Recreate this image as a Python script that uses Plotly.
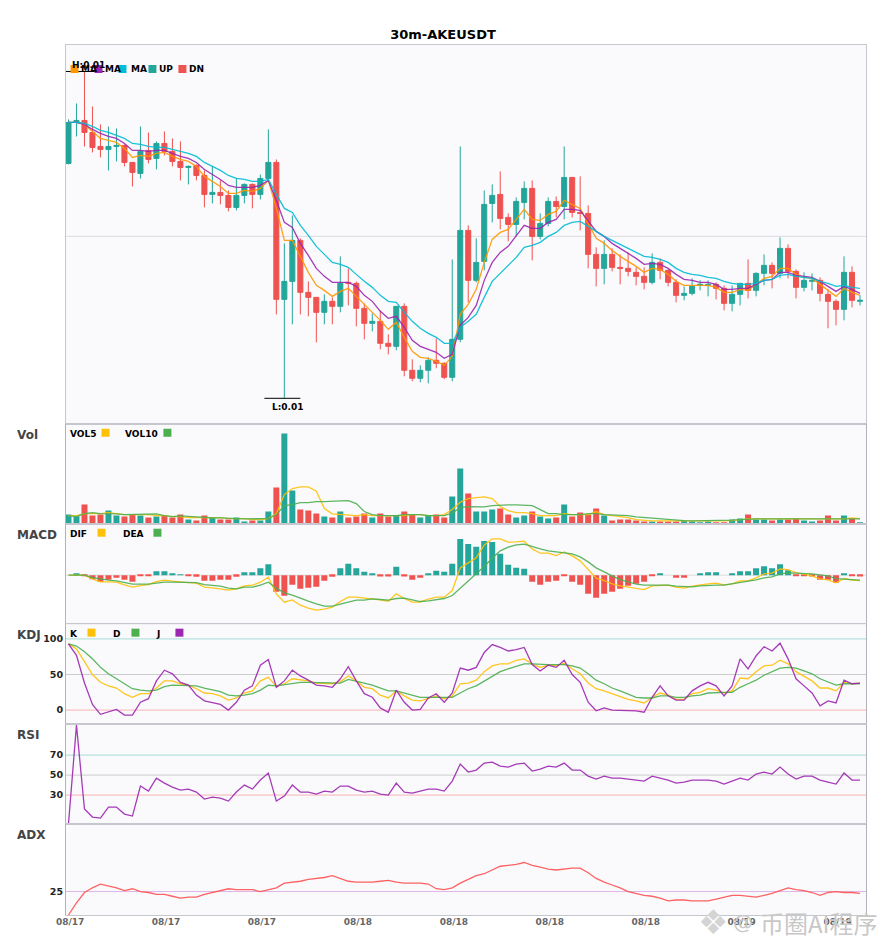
# ---------- LIBRARIES ---------- #
import plotly.graph_objects as go
from plotly.subplots import make_subplots

# ---------- DATA ---------- #
# prices are read off the picture, in chart units (no price axis is shown)
opens = [
    261, 302, 304, 292, 278, 275, 278, 279, 262, 251,
    274, 266, 281, 273, 263, 257, 259, 249, 230, 232,
    229, 217, 229, 240, 230, 246, 262, 125, 143, 184,
    132, 127, 112, 123, 118, 142, 141, 116, 101, 103,
    81, 78, 118, 54, 46, 54, 64, 61, 47, 85,
    194, 144, 163, 221, 230, 207, 200, 222, 236, 188,
    201, 223, 218, 247, 212, 211, 170, 156, 170, 157,
    156, 152, 148, 142, 162, 154, 142, 129, 131, 139,
    139, 140, 136, 121, 130, 141, 134, 151, 159, 151,
    176, 153, 137, 143, 144, 130, 123, 115, 152, 123,
]
closes = [
    302, 304, 292, 277, 275, 278, 279, 262, 252, 273,
    265, 281, 273, 263, 257, 258, 249, 230, 232, 229,
    217, 229, 240, 230, 246, 262, 125, 143, 184, 132,
    127, 112, 123, 118, 141, 141, 116, 101, 103, 81,
    78, 118, 54, 46, 54, 64, 61, 47, 85, 194,
    144, 162, 220, 229, 206, 200, 223, 236, 188, 201,
    223, 218, 247, 212, 211, 170, 156, 170, 157, 156,
    153, 148, 142, 162, 154, 142, 129, 131, 138, 140,
    140, 136, 121, 130, 141, 134, 151, 159, 151, 176,
    153, 137, 144, 144, 131, 123, 115, 152, 124, 124,
]
highs = [
    305, 321, 353, 318, 300, 298, 296, 280, 262, 298,
    292, 283, 293, 286, 283, 259, 260, 254, 258, 244,
    234, 246, 241, 241, 250, 295, 265, 181, 209, 186,
    143, 127, 130, 127, 168, 156, 143, 121, 111, 114,
    90, 118, 121, 65, 59, 67, 86, 62, 165, 278,
    199, 186, 234, 240, 253, 211, 227, 243, 244, 211,
    227, 228, 278, 247, 248, 219, 177, 184, 176, 170,
    172, 157, 157, 171, 166, 155, 145, 138, 146, 144,
    144, 142, 139, 139, 141, 165, 152, 170, 162, 187,
    180, 155, 152, 151, 147, 135, 125, 168, 158, 129,
]
lows = [
    260, 288, 278, 272, 267, 254, 263, 258, 238, 246,
    261, 255, 269, 258, 244, 240, 244, 217, 221, 220,
    213, 214, 221, 216, 225, 246, 110, 26, 100, 110,
    108, 82, 100, 100, 112, 119, 98, 85, 93, 75,
    70, 74, 48, 43, 42, 41, 56, 45, 43, 82,
    122, 142, 154, 202, 195, 183, 188, 205, 164, 185,
    198, 207, 205, 207, 194, 156, 138, 140, 153, 140,
    148, 139, 135, 140, 145, 138, 122, 124, 129, 134,
    128, 125, 114, 113, 119, 126, 128, 139, 136, 146,
    146, 126, 133, 134, 123, 96, 99, 104, 117, 119,
]
ma_fast = [
    302, 302, 300, 293, 286, 284, 282, 276, 267, 269,
    268, 271, 272, 268, 265, 263, 258, 248, 243, 238,
    231, 231, 234, 233, 236, 244, 216, 184, 184, 168,
    152, 139, 134, 128, 133, 136, 128, 120, 113, 104,
    95, 102, 87, 73, 67, 66, 63, 59, 68, 110,
    120, 135, 162, 185, 192, 195, 205, 215, 205, 204,
    210, 213, 224, 220, 216, 201, 186, 181, 174, 168,
    163, 158, 152, 156, 155, 150, 143, 139, 139, 139,
    139, 137, 132, 132, 135, 134, 140, 146, 148, 156,
    156, 150, 147, 146, 140, 134, 128, 136, 132, 129,
]
ma_mid = [
    302, 302, 300, 295, 291, 288, 286, 281, 274, 274,
    273, 274, 274, 271, 268, 266, 262, 255, 250, 245,
    239, 237, 237, 237, 239, 244, 224, 202, 197, 181,
    169, 156, 148, 142, 142, 142, 138, 129, 123, 113,
    106, 108, 97, 84, 78, 75, 72, 66, 70, 99,
    107, 119, 144, 162, 172, 178, 189, 199, 196, 196,
    202, 205, 215, 215, 214, 203, 193, 188, 181, 176,
    171, 166, 160, 161, 160, 156, 150, 145, 144, 142,
    142, 140, 135, 135, 136, 136, 140, 144, 145, 152,
    152, 149, 148, 147, 143, 138, 133, 138, 135, 131,
]
ma_slow = [
    302, 302, 301, 298, 294, 292, 289, 286, 281, 280,
    278, 277, 277, 275, 273, 271, 268, 262, 258, 254,
    249, 246, 245, 243, 243, 245, 230, 216, 212, 199,
    189, 178, 170, 162, 160, 157, 150, 143, 137, 129,
    123, 122, 112, 103, 96, 91, 87, 81, 81, 97,
    103, 110, 127, 143, 151, 159, 167, 177, 179, 182,
    188, 192, 199, 202, 203, 198, 193, 188, 184, 180,
    176, 172, 168, 167, 165, 162, 156, 152, 150, 149,
    147, 146, 143, 141, 140, 140, 141, 144, 145, 149,
    150, 148, 147, 146, 143, 141, 138, 139, 137, 136,
]
volume = [
    29, 24, 59, 26, 29, 41, 26, 23, 29, 26,
    20, 23, 26, 20, 29, 14, 11, 26, 20, 14,
    14, 20, 8, 11, 11, 38, 110, 272, 101, 44,
    41, 32, 23, 20, 38, 20, 23, 32, 20, 32,
    23, 26, 38, 29, 20, 26, 29, 20, 83, 167,
    92, 38, 38, 44, 47, 29, 20, 26, 38, 23,
    17, 20, 59, 23, 35, 29, 47, 26, 11, 14,
    14, 11, 8, 8, 8, 8, 8, 11, 8, 5,
    8, 5, 5, 14, 17, 29, 14, 14, 11, 14,
    14, 17, 11, 8, 11, 26, 11, 26, 17, 5,
]
vol5 = [
    26, 26, 32, 32, 32, 35, 32, 29, 29, 29,
    29, 26, 26, 23, 23, 20, 20, 20, 20, 20,
    17, 17, 17, 14, 14, 17, 32, 89, 107, 112,
    112, 99, 47, 31, 29, 26, 26, 29, 26, 26,
    26, 26, 26, 29, 29, 26, 26, 29, 44, 66,
    77, 80, 82, 77, 53, 41, 35, 35, 32, 26,
    26, 26, 32, 29, 29, 29, 38, 29, 26, 23,
    20, 14, 11, 10, 10, 10, 10, 9, 8, 8,
    8, 8, 10, 11, 14, 16, 16, 16, 16, 16,
    16, 16, 16, 15, 15, 14, 14, 16, 19, 17,
]
vol10 = [
    26, 23, 32, 35, 32, 32, 31, 29, 29, 29,
    29, 31, 26, 23, 25, 23, 21, 21, 19, 19,
    19, 17, 16, 16, 16, 17, 29, 56, 59, 65,
    65, 68, 68, 68, 70, 71, 62, 38, 29, 26,
    26, 26, 29, 29, 29, 26, 26, 26, 33, 50,
    53, 52, 52, 56, 58, 58, 58, 58, 56, 44,
    32, 32, 29, 29, 29, 32, 32, 29, 28, 28,
    26, 22, 20, 19, 16, 13, 11, 11, 10, 10,
    10, 10, 11, 12, 14, 16, 16, 16, 16, 16,
    17, 17, 17, 17, 17, 16, 16, 16, 17, 16,
]
macd_hist = [
    0, 3, -1, -12, -20, -14, -8, -14, -20, -2,
    -1, 12, 12, 6, 1, -2, -5, -17, -17, -14,
    -14, -5, 9, 9, 21, 33, -50, -62, -29, -41,
    -38, -35, -17, -5, 21, 34, 21, 10, 6, -4,
    -4, 25, -4, -14, -8, 6, 13, 10, 34, 109,
    94, 85, 103, 100, 64, 31, 22, 19, -20, -29,
    -20, -17, -2, -20, -29, -56, -68, -56, -50, -41,
    -32, -26, -20, -2, 3, 0, -8, -8, 0, 6,
    9, 9, 0, 3, 12, 12, 21, 27, 21, 33,
    15, -2, -2, -4, -14, -14, -22, 3, -2, -4,
]
dif = [
    0, 1, 0, -11, -20, -20, -21, -29, -36, -31,
    -28, -19, -15, -18, -21, -22, -24, -36, -38, -41,
    -45, -41, -32, -30, -21, -6, -56, -81, -74, -90,
    -99, -105, -102, -96, -79, -66, -66, -69, -71, -74,
    -78, -56, -70, -81, -81, -72, -66, -66, -46, 22,
    37, 52, 91, 109, 109, 99, 100, 102, 79, 66,
    66, 59, 70, 58, 43, 16, -9, -16, -26, -32,
    -35, -38, -43, -32, -30, -30, -36, -39, -33, -29,
    -26, -24, -29, -26, -17, -17, -8, 4, 6, 19,
    17, 8, 3, -2, -11, -14, -23, -10, -15, -16,
]
dea = [
    0, 0, 0, -7, -12, -15, -17, -21, -27, -27,
    -27, -24, -21, -21, -21, -22, -22, -28, -31, -33,
    -39, -41, -36, -36, -30, -21, -39, -53, -60, -70,
    -78, -86, -93, -93, -87, -80, -75, -75, -71, -73,
    -75, -70, -69, -74, -79, -77, -74, -70, -61, -39,
    -18, 3, 26, 51, 73, 84, 91, 93, 85, 79,
    73, 70, 68, 64, 55, 40, 22, 9, -2, -13,
    -20, -27, -30, -30, -30, -30, -33, -35, -35, -32,
    -30, -30, -30, -26, -23, -20, -14, -8, -5, 4,
    7, 6, 6, 4, 1, -2, -10, -11, -12, -15,
]
kdj_k = [
    93, 86, 68, 50, 39, 34, 31, 23, 18, 23,
    23, 31, 41, 41, 37, 35, 30, 24, 23, 20,
    14, 17, 24, 27, 41, 46, 33, 37, 44, 43,
    41, 38, 37, 37, 40, 48, 41, 32, 30, 21,
    17, 27, 20, 14, 13, 17, 20, 16, 20, 37,
    38, 42, 54, 62, 65, 65, 70, 72, 65, 60,
    63, 62, 66, 58, 51, 38, 30, 27, 23, 18,
    15, 13, 10, 18, 24, 21, 15, 15, 23, 25,
    30, 28, 24, 27, 45, 44, 54, 62, 63, 70,
    65, 54, 48, 41, 31, 31, 27, 39, 37, 38,
]
kdj_d = [
    93, 90, 82, 72, 60, 51, 44, 37, 30, 28,
    27, 28, 33, 35, 35, 35, 34, 31, 28, 26,
    21, 20, 21, 23, 28, 35, 34, 36, 38, 39,
    39, 39, 38, 38, 38, 43, 41, 38, 35, 31,
    27, 27, 24, 21, 18, 18, 18, 17, 18, 24,
    30, 34, 41, 48, 54, 58, 61, 65, 65, 64,
    64, 64, 64, 62, 59, 51, 42, 37, 31, 27,
    23, 18, 17, 17, 20, 20, 18, 18, 20, 21,
    24, 25, 25, 25, 32, 37, 42, 49, 54, 59,
    60, 59, 55, 51, 44, 39, 35, 37, 37, 37,
]
kdj_j = [
    93, 77, 38, 8, -6, -3, 1, -7, -7, 11,
    16, 41, 56, 51, 39, 35, 21, 13, 11, 8,
    0, 11, 28, 34, 63, 71, 32, 41, 56, 48,
    42, 35, 34, 32, 44, 61, 41, 23, 18, 3,
    -3, 28, 11, 0, 1, 17, 23, 11, 24, 59,
    56, 60, 81, 92, 88, 83, 85, 88, 64, 55,
    63, 60, 70, 50, 39, 11, -1, 3, 0, 0,
    -1, -1, -3, 18, 34, 20, 14, 14, 27, 34,
    39, 34, 20, 34, 72, 58, 76, 89, 83, 94,
    72, 44, 34, 24, 6, 13, 10, 42, 37, 38,
]
rsi = [
    1, 100, 16, 8, 7, 18, 18, 11, 9, 39,
    34, 47, 42, 38, 35, 36, 33, 26, 28, 27,
    24, 33, 40, 36, 45, 52, 24, 29, 40, 33,
    33, 31, 34, 33, 39, 39, 35, 33, 34, 31,
    30, 42, 33, 32, 34, 36, 36, 34, 44, 61,
    53, 55, 62, 63, 59, 58, 61, 62, 54, 56,
    59, 58, 62, 55, 55, 49, 46, 49, 47, 47,
    46, 45, 44, 49, 47, 45, 42, 43, 45, 45,
    45, 44, 41, 44, 47, 45, 51, 53, 51, 58,
    51, 46, 49, 49, 45, 43, 41, 52, 45, 45,
]
adx = [
    0, 13, 24, 29, 33, 31, 29, 26, 28, 25,
    24, 22, 22, 20, 18, 19, 19, 22, 24, 26,
    28, 27, 27, 27, 25, 27, 29, 34, 35, 36,
    38, 39, 40, 42, 39, 36, 35, 35, 35, 36,
    37, 35, 34, 34, 34, 33, 28, 27, 29, 34,
    38, 42, 44, 48, 52, 53, 54, 56, 53, 51,
    49, 48, 49, 50, 50, 45, 39, 35, 32, 29,
    25, 23, 21, 20, 18, 15, 16, 16, 15, 15,
    15, 17, 19, 21, 21, 20, 19, 21, 23, 26,
    29, 27, 26, 24, 21, 24, 25, 24, 24, 23,
]
tick_indexes = [0, 12, 24, 36, 48, 60, 72, 84, 96]
tick_labels = ["08/17", "08/17", "08/17", "08/18", "08/18", "08/18", "08/18", "08/19", "08/19"]

# ---------- STYLE ---------- #
WIDTH, HEIGHT = 885, 950
LEFT, RIGHT, TOP, BOTTOM = 65.5, 19, 45, 34.5
X_RANGE = [-0.31, 99.75]
UP, DN = "#26a69a", "#ef5350"
ORANGE, PURPLE, CYAN = "#ff9800", "#9c27b0", "#00bcd4"
YELLOW, GREEN = "#ffc107", "#4caf50"
FONT = "DejaVu Sans"
candle_x = list(range(len(closes)))


def px(x):
    # page pixel to paper position, paper only spans the plot area
    return (x - LEFT) / (WIDTH - LEFT - RIGHT)


def py(y):
    return (HEIGHT - BOTTOM - y) / (HEIGHT - TOP - BOTTOM)


def addLine(fig, values, color, row, width=1.3):
    fig.add_trace(go.Scatter(x=candle_x, y=values, mode="lines", line=dict(color=color, width=width),
                             opacity=0.9, hoverinfo="skip"), row=row, col=1)


def addLevel(fig, level, color, row):
    # level lines go in as traces so they stay behind the panel's own lines
    fig.add_trace(go.Scatter(x=X_RANGE, y=[level, level], mode="lines", line=dict(color=color, width=1),
                             hoverinfo="skip"), row=row, col=1)


def addText(fig, x, y, text, size=9, color="#000000", anchor="left", family=FONT, weight="bold"):
    # annotations keep about a pixel of padding, hence the -1
    fig.add_annotation(xref="paper", yref="paper", x=px(x - 1), y=py(y), text=text, showarrow=False, xanchor=anchor,
                       yanchor="middle", borderpad=0, font=dict(family=family, size=size, color=color, weight=weight))


def addSwatch(fig, x, y, color):
    fig.add_shape(type="rect", xref="paper", yref="paper", x0=px(x), x1=px(x + 8), y0=py(y - 4), y1=py(y + 4),
                  fillcolor=color, line_width=0)


# ---------- FIGURE ---------- #
fig = make_subplots(rows=6, cols=1, shared_xaxes=True, vertical_spacing=0,
                    row_heights=[379.5, 100, 100, 100, 100, 91])

# the main and MACD levels must lie under candles and bars, a shape does that
for row, level in [(1, 188), (3, 0)]:
    fig.add_shape(type="line", x0=X_RANGE[0], x1=X_RANGE[1], y0=level, y1=level,
                  line=dict(color="#dddddd", width=1), layer="below", row=row, col=1)

fig.add_trace(go.Candlestick(x=candle_x, open=opens, high=highs, low=lows, close=closes, whiskerwidth=0,
                             increasing=dict(line=dict(color=UP, width=1), fillcolor=UP),
                             decreasing=dict(line=dict(color=DN, width=1), fillcolor=DN),
                             hoverinfo="skip"), row=1, col=1)
addLine(fig, ma_fast, ORANGE, 1)
addLine(fig, ma_mid, PURPLE, 1)
addLine(fig, ma_slow, CYAN, 1)

bar_colors = [UP if c >= o else DN for o, c in zip(opens, closes)]
fig.add_trace(go.Bar(x=candle_x, y=volume, marker=dict(color=bar_colors, line_width=0), hoverinfo="skip"), row=2, col=1)
addLine(fig, vol5, YELLOW, 2)
addLine(fig, vol10, GREEN, 2)

hist_colors = [UP if h >= 0 else DN for h in macd_hist]
fig.add_trace(go.Bar(x=candle_x, y=macd_hist, marker=dict(color=hist_colors, line_width=0), hoverinfo="skip"), row=3, col=1)
addLine(fig, dif, YELLOW, 3)
addLine(fig, dea, GREEN, 3)

addLevel(fig, 100, "#a5dcd7", 4)
addLevel(fig, 50, "#cccccc", 4)
addLevel(fig, 0, "#f9b4b4", 4)
addLine(fig, kdj_k, YELLOW, 4)
addLine(fig, kdj_d, GREEN, 4)
addLine(fig, kdj_j, PURPLE, 4)

addLevel(fig, 70, "#a5dcd7", 5)
addLevel(fig, 50, "#cccccc", 5)
addLevel(fig, 30, "#f9b4b4", 5)
addLine(fig, rsi, PURPLE, 5)

addLevel(fig, 25, "#dfb4e8", 6)
addLine(fig, adx, "#ff5252", 6)

# high / low markers of the main panel
high_i = highs.index(max(highs))
low_i = lows.index(min(lows))
fig.add_shape(type="line", x0=high_i - 2.5, x1=high_i + 2.5, y0=highs[high_i], y1=highs[high_i],
              line=dict(color="#000000", width=1), row=1, col=1)
fig.add_shape(type="line", x0=low_i - 2.5, x1=low_i + 2, y0=lows[low_i], y1=lows[low_i],
              line=dict(color="#000000", width=1), row=1, col=1)
addText(fig, 72, 65, "H:0.01")
addText(fig, 272, 407, "L:0.01")

# hand-drawn legends, they sit on top of the panels
addSwatch(fig, 70, 69, ORANGE)
addText(fig, 81, 69, "MA")
addSwatch(fig, 94, 69, PURPLE)
addText(fig, 105, 69, "MA")
addSwatch(fig, 118, 69, CYAN)
addText(fig, 131, 69, "MA")
addSwatch(fig, 148, 69, UP)
addText(fig, 159, 69, "UP")
addSwatch(fig, 178, 69, DN)
addText(fig, 189, 69, "DN")

addText(fig, 70, 434, "VOL5")
addSwatch(fig, 101, 433, YELLOW)
addText(fig, 125, 434, "VOL10")
addSwatch(fig, 163, 433, GREEN)
addText(fig, 70, 534, "DIF")
addSwatch(fig, 97, 533, YELLOW)
addText(fig, 123, 534, "DEA")
addSwatch(fig, 153, 533, GREEN)
addText(fig, 70, 634, "K")
addSwatch(fig, 87, 633, YELLOW)
addText(fig, 113, 634, "D")
addSwatch(fig, 131, 633, GREEN)
addText(fig, 156, 634, "J")
addSwatch(fig, 175, 633, PURPLE)

for name, y in [("Vol", 435), ("MACD", 535), ("KDJ", 635), ("RSI", 735), ("ADX", 835)]:
    addText(fig, 16, y, name, size=12, color="#444444")

# watermark in the bottom right corner
addText(fig, 714, 923, "❖", size=34, color="#d4d4d4", anchor="center", weight="normal")
addText(fig, 733, 923, "@", size=20, color="#c8c8c8", weight="normal")
addText(fig, 760, 923, "币圈AI程序", size=24, color="#c8c8c8", family="Noto Sans CJK SC", weight="normal")

fig.update_layout(
    width=WIDTH, height=HEIGHT,
    margin=dict(l=LEFT, r=RIGHT, t=TOP, b=BOTTOM),
    title=dict(text="30m-AKEUSDT", x=443 / WIDTH, xanchor="center", y=1 - 34 / HEIGHT, yanchor="middle",
               font=dict(family=FONT, size=13, color="#000000", weight="bold")),
    font=dict(family=FONT),
    showlegend=False,
    plot_bgcolor="#fafafd",
    paper_bgcolor="#ffffff",
    bargap=0.25,
    boxgap=0.37,
    boxgroupgap=0,
)
fig.update_xaxes(range=X_RANGE, showgrid=False, zeroline=False, showticklabels=False, ticks="",
                 showline=True, mirror=True, linecolor="#c6c6cf", linewidth=1, rangeslider_visible=False)
fig.update_xaxes(showticklabels=True, tickmode="array", tickvals=[i + 0.2 for i in tick_indexes], ticktext=tick_labels,
                 ticklabelstandoff=-2, tickfont=dict(family=FONT, size=9, color="#666666", weight="bold"),
                 row=6, col=1)
fig.update_yaxes(showgrid=False, zeroline=False, showticklabels=False, ticks="", showline=True, mirror=True,
                 linecolor="#b2b2b8", linewidth=1)

level_font = dict(family=FONT, size=9.5, color="#222222", weight="bold")
fig.update_yaxes(range=[0, 379.5], linecolor="#c6c6cf", row=1, col=1)
fig.update_yaxes(range=[0, 300], row=2, col=1)
fig.update_yaxes(range=[-147, 153], row=3, col=1)
fig.update_yaxes(range=[-19.7, 120.7], showticklabels=True, tickmode="array", tickvals=[0, 50, 100],
                 tickfont=level_font, row=4, col=1)
fig.update_yaxes(range=[1, 101], showticklabels=True, tickmode="array", tickvals=[30, 50, 70],
                 tickfont=level_font, row=5, col=1)
fig.update_yaxes(range=[0, 97], showticklabels=True, tickmode="array", tickvals=[25],
                 tickfont=level_font, row=6, col=1)

fig.write_html("out.html", config=dict(displayModeBar=False),
               post_script="document.body.style.margin = '0';")
